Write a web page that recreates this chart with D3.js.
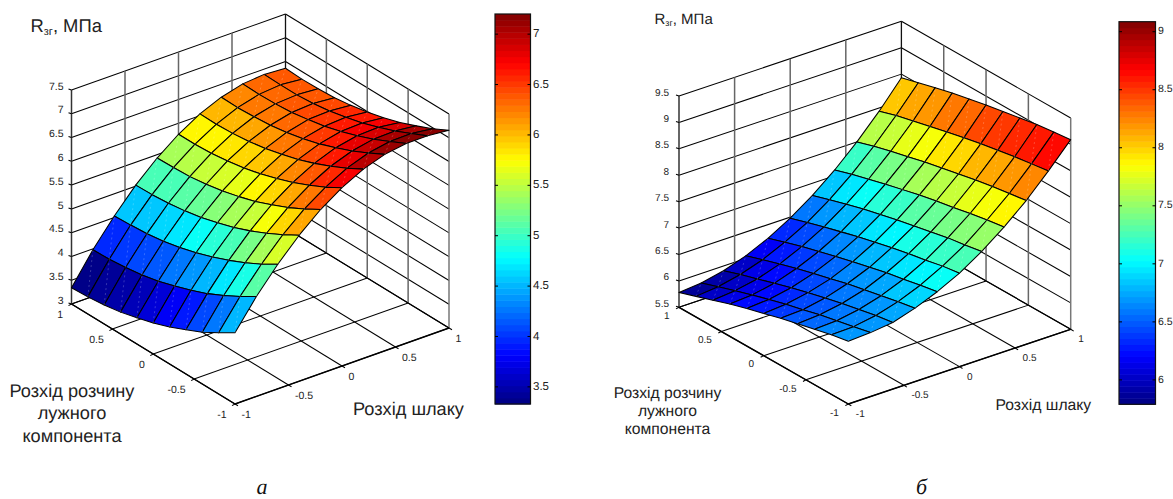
<!DOCTYPE html>
<html>
<head>
<meta charset="utf-8">
<style>
html,body{margin:0;padding:0;background:#fff}
svg{display:block}
text{font-family:"Liberation Sans",Arial,sans-serif;fill:#222;text-rendering:geometricPrecision}
</style>
</head>
<body>
<script src="https://cdn.jsdelivr.net/npm/d3@7"></script>
<script>
// grid of both surfaces
var gridX = [-1,-0.8,-0.6,-0.4,-0.2,0,0.2,0.4,0.6,0.8,1];
var gridY = [1,0.8,0.6,0.4,0.2,0,-0.2,-0.4,-0.6,-0.8,-1];
var axisTicks = [-1,-0.5,0,0.5,1];

// rows follow gridY, columns follow gridX
var valuesA = [
  [3.34,3.98,4.53,5.02,5.43,5.77,6.04,6.23,6.35,6.39,6.36],
  [3.36,3.99,4.55,5.03,5.44,5.77,6.03,6.22,6.34,6.38,6.34],
  [3.40,4.03,4.58,5.06,5.46,5.79,6.05,6.24,6.35,6.38,6.35],
  [3.46,4.08,4.63,5.11,5.51,5.84,6.09,6.27,6.38,6.41,6.37],
  [3.55,4.16,4.71,5.18,5.58,5.90,6.15,6.33,6.44,6.46,6.42],
  [3.65,4.27,4.81,5.28,5.67,5.99,6.24,6.41,6.51,6.54,6.49],
  [3.78,4.39,4.93,5.39,5.78,6.10,6.34,6.51,6.61,6.63,6.58],
  [3.93,4.53,5.07,5.53,5.92,6.23,6.47,6.64,6.73,6.75,6.69],
  [4.09,4.70,5.23,5.69,6.07,6.38,6.62,6.78,6.87,6.88,6.83],
  [4.29,4.89,5.41,5.87,6.25,6.55,6.79,6.95,7.03,7.04,6.98],
  [4.50,5.10,5.62,6.07,6.45,6.75,6.98,7.13,7.20,7.20,7.16]
];
var valuesB = [
  [5.78,5.82,5.91,6.05,6.24,6.48,6.77,7.11,7.50,7.94,8.43],
  [5.89,5.93,6.02,6.16,6.35,6.58,6.87,7.21,7.60,8.04,8.52],
  [6.00,6.04,6.12,6.26,6.45,6.68,6.97,7.30,7.69,8.12,8.61],
  [6.11,6.14,6.22,6.36,6.54,6.77,7.06,7.39,7.77,8.20,8.69],
  [6.21,6.24,6.32,6.45,6.63,6.86,7.14,7.47,7.85,8.28,8.76],
  [6.30,6.33,6.41,6.53,6.71,6.94,7.22,7.55,7.92,8.35,8.83],
  [6.39,6.41,6.49,6.62,6.79,7.02,7.29,7.62,7.99,8.42,8.89],
  [6.47,6.50,6.57,6.69,6.87,7.09,7.36,7.68,8.06,8.48,8.95],
  [6.55,6.57,6.64,6.76,6.93,7.15,7.43,7.75,8.12,8.54,9.01],
  [6.63,6.64,6.71,6.83,7.00,7.22,7.48,7.81,8.17,8.59,9.05],
  [6.69,6.71,6.76,6.89,7.06,7.27,7.54,7.86,8.22,8.64,9.09]
];
var zTicksA = [3,3.5,4,4.5,5,5.5,6,6.5,7,7.5];
var zTicksB = [5.5,6,6.5,7,7.5,8,8.5,9,9.5];
var barTicksA = [3.5,4,4.5,5,5.5,6,6.5,7];
var barTicksB = [6,6.5,7,7.5,8,8.5,9];
var climA = [3.33,7.2];
var climB = [5.79,9.086];

var svg = d3.select("body").append("svg").attr("width",1173).attr("height",499);

// MATLAB jet, 64 steps
var jet = d3.scaleLinear()
    .domain([0,0.125,0.375,0.625,0.875,1])
    .range(["#000080","#0000ff","#00ffff","#ffff00","#ff0000","#800000"]);
function jetColor(v, clim){
  var t = (v-clim[0])/(clim[1]-clim[0]);
  var i = Math.max(0,Math.min(63,Math.floor(t*64)));
  return jet((i+0.5)/64);
}

function drawSurface(c){
  var g = svg.append("g");
  // oblique projection: every data axis gets its own screen offset
  var xX = d3.scaleLinear([-1,1],[0,c.right[0]-c.front[0]]),
      xY = d3.scaleLinear([-1,1],[0,c.right[1]-c.front[1]]),
      yX = d3.scaleLinear([-1,1],[0,c.left[0]-c.front[0]]),
      yY = d3.scaleLinear([-1,1],[0,c.left[1]-c.front[1]]),
      zY = d3.scaleLinear([c.zTicks[0],c.zTicks[c.zTicks.length-1]],[0,-c.zHeight]);
  var zMin = c.zTicks[0], zMax = c.zTicks[c.zTicks.length-1];
  function p(x,y,z){
    return [c.front[0]+xX(x)+yX(y), c.front[1]+xY(x)+yY(y)+zY(z)];
  }
  function seg(a,b,w,col){
    g.append("line").attr("x1",a[0]).attr("y1",a[1]).attr("x2",b[0]).attr("y2",b[1])
      .attr("stroke",col||"#000").attr("stroke-width",w||1.05);
  }

  // back walls, horizontal lines
  c.zTicks.forEach(function(z){
    seg(p(-1,1,z),p(1,1,z));
    seg(p(1,1,z),p(1,-1,z));
  });
  // back walls, vertical lines
  axisTicks.forEach(function(t){
    if(t>-1 && t<1){
      seg(p(t,1,zMin),p(t,1,zMax),1.5,"#666");
      seg(p(1,t,zMin),p(1,t,zMax),1.5,"#666");
    }
  });
  seg(p(1,1,zMin),p(1,1,zMax),1.3,"#111");
  seg(p(1,-1,zMin),p(1,-1,zMax),1.5,"#777");
  // floor
  axisTicks.forEach(function(t){
    seg(p(t,-1,zMin),p(t,1,zMin));
    seg(p(-1,t,zMin),p(1,t,zMin));
  });
  // axes and ticks
  seg(p(-1,1,zMin),p(-1,1,zMax),1.5,"#333");
  seg(p(-1,1,zMin),p(-1,-1,zMin),1.4,"#000");
  seg(p(-1,-1,zMin),p(1,-1,zMin),1.4,"#000");
  c.zTicks.forEach(function(z){
    var a = p(-1,1,z);
    seg(a,[a[0]-3,a[1]-1]);
    g.append("text").attr("x",a[0]-c.zLabelGap).attr("y",a[1]-4).attr("dy","0.35em")
      .attr("text-anchor","end").attr("font-size",c.tickSize).text(z);
  });
  axisTicks.forEach(function(t){
    var a = p(-1,t,zMin), b = p(t,-1,zMin);
    seg(a,[a[0]-3,a[1]+1.6]);
    seg(b,[b[0]+3,b[1]+1.8]);
    g.append("text").attr("x",a[0]-c.yLabel[0]).attr("y",a[1]+c.yLabel[1]).attr("dy","0.35em")
      .attr("text-anchor","end").attr("font-size",c.tickSize).text(t);
    g.append("text").attr("x",b[0]+c.xLabel[0]).attr("y",b[1]+c.xLabel[1]).attr("dy","0.35em")
      .attr("font-size",c.tickSize).text(t);
  });

  // faces, far ones first
  var faces = [];
  gridY.slice(0,-1).forEach(function(y,r){
    gridX.slice(0,-1).forEach(function(x,k){ faces.push({r:r,k:k}); });
  });
  faces.sort(function(a,b){ return (a.r-a.k)-(b.r-b.k); });
  var line = d3.line();
  g.selectAll("path.face").data(faces).join("path").attr("class","face")
    .attr("d",function(f){
      var v = c.values;
      return line([
        p(gridX[f.k],gridY[f.r],v[f.r][f.k]),
        p(gridX[f.k+1],gridY[f.r],v[f.r][f.k+1]),
        p(gridX[f.k+1],gridY[f.r+1],v[f.r+1][f.k+1]),
        p(gridX[f.k],gridY[f.r+1],v[f.r+1][f.k])
      ])+"Z";
    })
    // flat shading takes the corner with the lowest x and y
    .attr("fill",function(f){ return jetColor(c.values[f.r+1][f.k],c.clim); })
    .attr("stroke","#000").attr("stroke-width",1.05).attr("stroke-linejoin","round");
  // renderer leaves a faint seam over each face
  g.selectAll("path.seam").data(faces).join("path").attr("class","seam")
    .attr("d",function(f){
      var v = c.values;
      return line([
        p(gridX[f.k],gridY[f.r+1],v[f.r+1][f.k]),
        p(gridX[f.k+1],gridY[f.r],v[f.r][f.k+1])
      ]);
    })
    .attr("fill","none").attr("stroke","#fff").attr("stroke-opacity",0.3)
    .attr("stroke-width",0.7).attr("stroke-dasharray","2 3");

  // colour bar
  var bar = c.bar;
  var barY = d3.scaleLinear(c.clim,[bar.y1,bar.y0]);
  var levels = d3.range(64);
  var lvl = d3.scaleLinear([0,64],c.clim);
  g.selectAll("rect.lvl").data(levels).join("rect").attr("class","lvl")
    .attr("x",bar.x0).attr("width",bar.x1-bar.x0)
    .attr("y",function(i){ return barY(lvl(i+1)); })
    .attr("height",function(i){ return barY(lvl(i))-barY(lvl(i+1))+0.5; })
    .attr("fill",function(i){ return jet((i+0.5)/64); });
  g.append("rect").attr("x",bar.x0).attr("y",bar.y0).attr("width",bar.x1-bar.x0).attr("height",bar.y1-bar.y0)
    .attr("fill","none").attr("stroke","#111").attr("stroke-width",1.2);
  c.barTicks.forEach(function(t){
    var y = barY(t);
    seg([bar.x0,y],[bar.x0+3,y],1,"#000");
    seg([bar.x1-3,y],[bar.x1,y],1,"#000");
    g.append("text").attr("x",bar.x1+2.5).attr("y",y-1).attr("dy","0.35em")
      .attr("font-size",c.barSize).text(t);
  });

  // titles
  var t = g.append("text").attr("x",c.title[0]).attr("y",c.title[1]).attr("font-size",c.titleSize);
  t.append("tspan").text("R");
  t.append("tspan").attr("font-size",c.titleSize*0.6).attr("dy",c.titleSize*0.15).text("зг");
  t.append("tspan").attr("dy",-c.titleSize*0.15).text(", МПа");
  c.yName.lines.forEach(function(s,i){
    g.append("text").attr("x",c.yName.x).attr("y",c.yName.y[i]).attr("text-anchor","middle")
      .attr("font-size",c.nameSize).text(s);
  });
  g.append("text").attr("x",c.xName[0]).attr("y",c.xName[1]).attr("font-size",c.nameSize).text("Розхід шлаку");
  g.append("text").attr("x",c.panel[0]).attr("y",c.panel[1]).attr("text-anchor","middle")
    .attr("font-size",22).attr("font-style","italic")
    .style("font-family","'Liberation Serif',serif").style("fill","#111").text(c.panel[2]);
}

var yNameLines = ["Розхід розчину","лужного","компонента"];

drawSurface({
  values: valuesA, clim: climA, zTicks: zTicksA, barTicks: barTicksA,
  front:[235,404], left:[71.5,304], right:[449,328], zHeight:214,
  zLabelGap:8, yLabel:[8.5,10], xLabel:[6.5,10], tickSize:10.5, barSize:11.5,
  bar:{x0:495,x1:530.5,y0:14,y1:404},
  title:[30.5,32], titleSize:18.4, nameSize:18.2,
  yName:{lines:yNameLines,x:72,y:[397,419,442]}, xName:[353,415],
  panel:[262,494,"а"]
});
drawSurface({
  values: valuesB, clim: climB, zTicks: zTicksB, barTicks: barTicksB,
  front:[848.3,404], left:[679,307.3], right:[1070.7,329.3], zHeight:211.3,
  zLabelGap:10, yLabel:[9.5,8.3], xLabel:[7.5,9.5], tickSize:10, barSize:10.5,
  bar:{x0:1119,x1:1155.5,y0:21.7,y1:404.3},
  title:[654.5,24], titleSize:15, nameSize:15.7,
  yName:{lines:yNameLines,x:667.5,y:[398,416,434]}, xName:[995.5,410],
  panel:[921.5,494,"б"]
});
</script>
</body>
</html>
